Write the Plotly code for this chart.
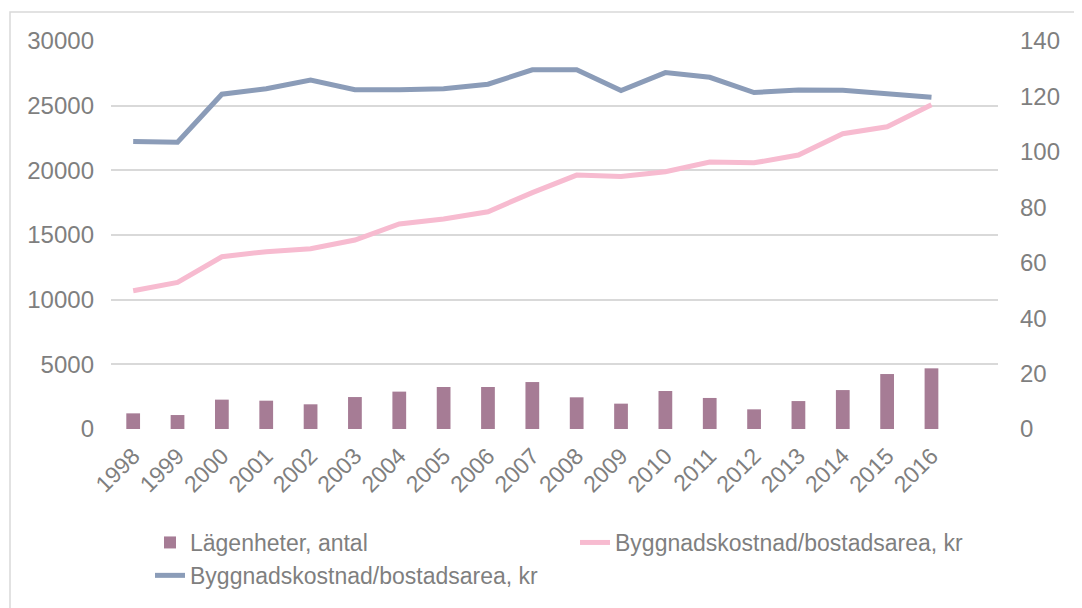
import plotly.graph_objects as go

years = [str(y) for y in range(1998, 2017)]
lagenheter = [1210, 1080, 2270, 2190, 1910, 2470, 2890, 3250, 3250, 3630,
              2450, 1960, 2940, 2400, 1520, 2160, 3010, 4250, 4690]
kostnad_pink = [10690, 11340, 13320, 13710, 13940, 14610, 15850, 16230, 16800, 18280,
                19630, 19530, 19890, 20640, 20580, 21180, 22830, 23370, 25070]
kostnad_blue = [103.7, 103.5, 120.8, 122.8, 125.9, 122.4, 122.4, 122.8, 124.4, 129.6,
                129.6, 122.1, 128.6, 126.9, 121.4, 122.3, 122.2, 120.8, 119.7]

names = ["Lägenheter, antal", "Byggnadskostnad/bostadsarea, kr", "Byggnadskostnad/bostadsarea, kr"]

# page body has an 8px margin; compensate
OFF = 8
W, H = 1082 - OFF, 608 - OFF
L, R, T, B = 111 - OFF, 84, 41 - OFF, 179
pw, ph = W - L - R, H - T - B

xs = list(range(len(years)))
FONT = "Liberation Sans, Arial, sans-serif"
TXT = "#7F7F7F"
GRID = "#D9D9D9"
FS = 24

fig = go.Figure()
fig.add_trace(go.Bar(x=xs, y=lagenheter, name=names[0], marker_color="#A67C95",
                     marker_line_width=0, width=0.31))
fig.add_trace(go.Scatter(x=xs, y=kostnad_pink, name=names[1], mode="lines",
                         line=dict(color="#F7BBD0", width=5)))
fig.add_trace(go.Scatter(x=xs, y=kostnad_blue, name=names[2], mode="lines",
                         line=dict(color="#8B9CB8", width=5), yaxis="y2"))

fig.update_layout(
    width=W, height=H,
    margin=dict(l=L, r=R, t=T, b=B, autoexpand=False),
    paper_bgcolor="white", plot_bgcolor="white",
    font=dict(family=FONT, size=FS, color=TXT),
    xaxis=dict(range=[-0.5, 19.5], tickmode="array", tickvals=xs, ticktext=years,
               tickangle=-45, showgrid=False, zeroline=False, showline=False,
               ticks="", ticklabelstandoff=8, tickfont=dict(size=FS - 1, color=TXT)),
    yaxis=dict(range=[0, 30000], dtick=5000, tickformat="d", showgrid=True,
               gridcolor=GRID, gridwidth=1.5,
               zeroline=False, showline=False, ticks="", ticklabelstandoff=16,
               tickfont=dict(size=FS, color=TXT)),
    yaxis2=dict(range=[0, 140], dtick=20, overlaying="y", side="right", showgrid=False,
                zeroline=False, showline=False, ticks="", ticklabelstandoff=21,
                tickfont=dict(size=FS, color=TXT)),
    legend=dict(orientation="h", x=(150 - 111) / pw, xanchor="left",
                y=(429 - 521) / ph, yanchor="top", entrywidth=380,
                font=dict(size=FS - 1, color=TXT), bgcolor="rgba(0,0,0,0)",
                traceorder="normal", itemwidth=30),
    shapes=[dict(type="rect", xref="paper", yref="paper",
                 x0=(10 - 111) / pw, x1=1.5, y0=-1.5, y1=(429 - 12) / ph,
                 line=dict(color=GRID, width=1.5), fillcolor="rgba(0,0,0,0)", layer="below")],
)

fig.write_html("out.html")
